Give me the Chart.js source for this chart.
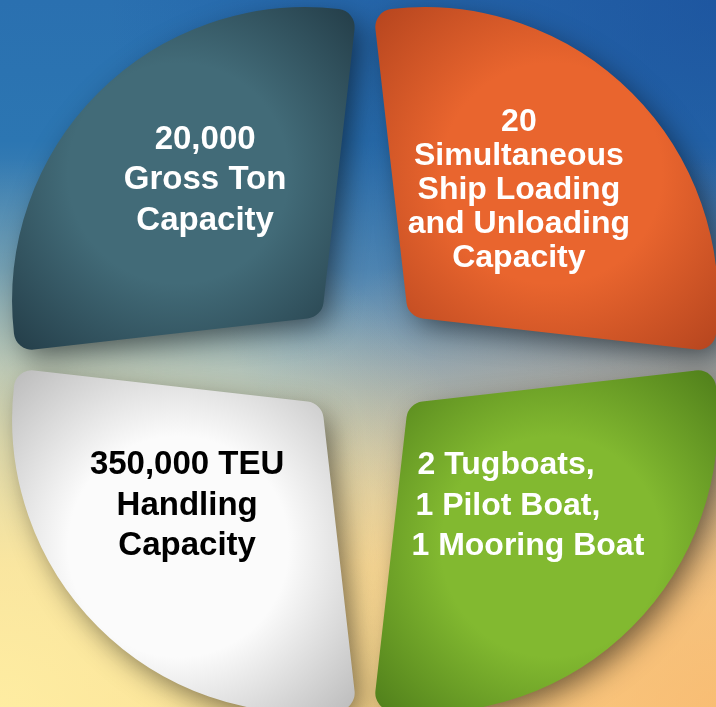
<!DOCTYPE html>
<html>
<head>
<meta charset="utf-8">
<script src="https://cdn.jsdelivr.net/npm/chart.js@4.4.0/dist/chart.umd.min.js"></script>
<style>
  html, body { margin: 0; padding: 0; }
  body {
    width: 716px; height: 707px; overflow: hidden;
    background:
      radial-gradient(ellipse at 0% 100%, rgba(255, 240, 165, 0.85), rgba(255, 240, 165, 0) 55%),
      radial-gradient(ellipse at 100% 100%, rgba(248, 178, 105, 0.7), rgba(248, 178, 105, 0) 55%),
      radial-gradient(ellipse at 100% 0%, rgba(22, 70, 150, 0.6), rgba(22, 70, 150, 0) 60%),
      linear-gradient(180deg, #2a70b0 0%, #2c76b2 20%, #5890b6 38%, #9cb5bd 52%, #c6c8b0 64%, #f0d497 80%, #f9d88e 100%);
  }
  #wrap { position: relative; width: 716px; height: 707px; }
</style>
</head>
<body>
<div id="wrap"><canvas id="capacityChart"></canvas></div>
<script>
// slices run clockwise from 12 o'clock
const categories = ["Ship Loading", "Service Boats", "TEU Handling", "Gross Ton"];
const shares = [25, 25, 25, 25];
const labelLines = [
  ["20", "Simultaneous", "Ship Loading", "and Unloading", "Capacity"],
  ["2 Tugboats,", "1 Pilot Boat,", "1 Mooring Boat"],
  ["350,000 TEU", "Handling", "Capacity"],
  ["20,000", "Gross Ton", "Capacity"]
];

const lightColors = ["#e9652e", "#82b930", "#fbfbfb", "#426b78"];
const darkColors = ["#b4441e", "#4e7d1a", "#b9b9b9", "#233c47"];
const textColors = ["#ffffff", "#ffffff", "#000000", "#ffffff"];

const SLICE_OFFSET = 336;

function sliceFill(context) {
  const i = context.dataIndex;
  const area = context.chart.chartArea;
  if (!area) return lightColors[i];
  const cx = (area.left + area.right) / 2;
  const cy = (area.top + area.bottom) / 2;
  const mid = -Math.PI / 2 + (i + 0.5) * Math.PI / 2;
  // arc is drawn after a translate of offset/4 along its middle
  const r = 180;
  const gx = cx + Math.cos(mid) * r;
  const gy = cy + Math.sin(mid) * r;
  const g = context.chart.ctx.createRadialGradient(gx, gy, 0, gx, gy, 245);
  g.addColorStop(0, lightColors[i]);
  g.addColorStop(0.45, lightColors[i]);
  g.addColorStop(1, darkColors[i]);
  return g;
}

// shadow pass: draw the arcs far off to the left and let only their shadow land
const shadowPlugin = {
  id: "sliceShadow",
  beforeDatasetsDraw(chart) {
    const ctx = chart.ctx;
    const dpr = chart.currentDevicePixelRatio || 1;
    const away = 3000;
    ctx.save();
    ctx.translate(-away, 0);
    ctx.shadowColor = "rgba(0, 0, 0, 0.4)";
    ctx.shadowBlur = 28;
    ctx.shadowOffsetX = away * dpr + 8;
    ctx.shadowOffsetY = 10;
    chart.getDatasetMeta(0).data.forEach(arc => arc.draw(ctx));
    ctx.restore();
  }
};

const sliceText = {
  id: "sliceText",
  afterDatasetsDraw(chart, args, opts) {
    const ctx = chart.ctx;
    const meta = chart.getDatasetMeta(0);
    meta.data.forEach((arc, i) => {
      const p = arc.getProps(["x", "y", "startAngle", "endAngle", "outerRadius"], true);
      const mid = (p.startAngle + p.endAngle) / 2;
      const d = SLICE_OFFSET / 4 + opts.radial * p.outerRadius;
      const nudge = opts.nudge[i];
      const x = p.x + Math.cos(mid) * d + nudge[0];
      const y = p.y + Math.sin(mid) * d + nudge[1];
      const lines = labelLines[i];
      const lh = opts.lineHeights[i];
      ctx.save();
      ctx.font = "bold " + opts.sizes[i] + "px 'Liberation Sans', Arial, sans-serif";
      ctx.fillStyle = textColors[i];
      ctx.textBaseline = "middle";
      const leftAligned = opts.align[i] === "left";
      let left = x;
      if (leftAligned) {
        const w = Math.max(...lines.map(l => ctx.measureText(l).width));
        left = x - w / 2;
        ctx.textAlign = "left";
      } else {
        ctx.textAlign = "center";
      }
      lines.forEach((line, k) => {
        const ly = y + (k - (lines.length - 1) / 2) * lh;
        ctx.fillText(line, leftAligned ? left + (opts.indent[i][k] || 0) : x, ly);
      });
      ctx.restore();
    });
  }
};

new Chart(document.getElementById("capacityChart"), {
  type: "doughnut",
  data: {
    labels: categories,
    datasets: [{
      data: shares,
      backgroundColor: sliceFill,
      borderColor: sliceFill,
      borderWidth: 36,
      borderAlign: "center",
      borderJoinStyle: "round",
      offset: SLICE_OFFSET,
      spacing: -37,
      borderRadius: 0
    }]
  },
  options: {
    responsive: true,
    maintainAspectRatio: false,
    animation: false,
    events: [],
    radius: 294,
    cutout: 0,
    layout: { padding: { left: 14, top: 13, right: 0, bottom: 0 } },
    plugins: {
      legend: { display: false },
      tooltip: { enabled: false },
      sliceText: {
        radial: 0.517,
        nudge: [[-13, -3], [-4, -21], [-11, -21], [7, -13]],
        sizes: [32, 32, 33, 33],
        lineHeights: [34, 40.5, 40.5, 40.5],
        align: ["center", "left", "center", "center"],
        indent: [[], [6, 4, 0], [], []]
      }
    }
  },
  plugins: [shadowPlugin, sliceText]
});
</script>
</body>
</html>
